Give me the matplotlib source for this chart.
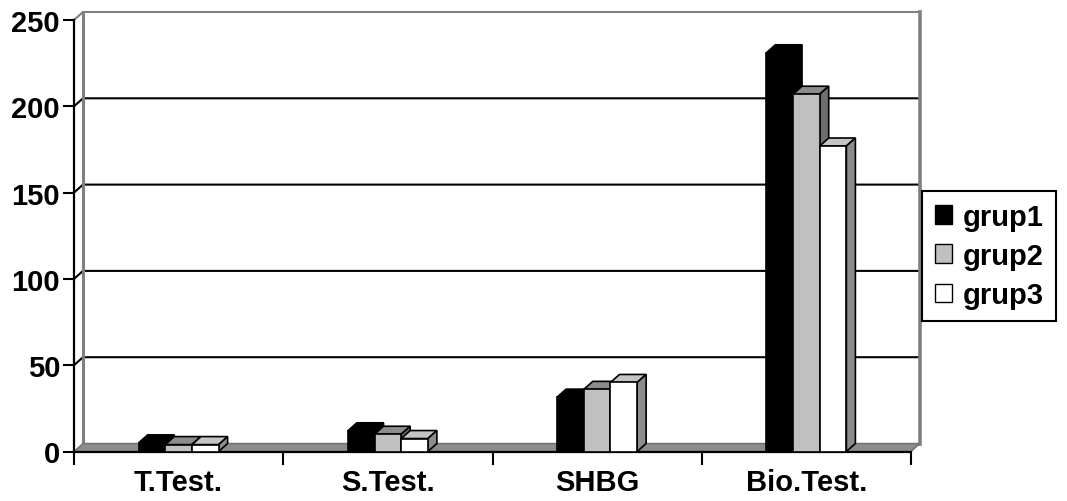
import matplotlib
matplotlib.use('Agg')
import matplotlib.pyplot as plt
from matplotlib.patches import Polygon, Patch
import numpy as np

categories = ['T.Test.', 'S.Test.', 'SHBG', 'Bio.Test.']
grup1 = [5, 12, 31.5, 231]
grup2 = [4, 10, 36, 207]
grup3 = [4, 7.5, 40, 177]
series_names = ['grup1', 'grup2', 'grup3']
y_ticks = [0, 50, 100, 150, 200, 250]

face_colors = ['#000000', '#C0C0C0', '#FFFFFF']
top_colors = ['#000000', '#8C8C8C', '#C4C4C4']
side_colors = ['#000000', '#6E6E6E', '#8C8C8C']

plt.rcParams['font.family'] = ['Liberation Sans', 'DejaVu Sans']
plt.rcParams['font.weight'] = 'bold'
FS = 21

W, H = 1067, 502
fig = plt.figure(figsize=(W / 100, H / 100), dpi=100)
ax = fig.add_axes([74 / W, 1 - 452.5 / H, 837 / W, 431.5 / H])
n = len(categories)
ymax = y_ticks[-1]
ax.set_xlim(0, n)
ax.set_ylim(0, ymax)

# 3-D depth offset (pixels) converted into data units
pos = ax.get_position()
wpx, hpx = pos.width * W, pos.height * H
dx = 9 * n / wpx
dy = 8 * ymax / hpx

# back-wall gridlines, running diagonally across the side wall first
for y in y_ticks[1:]:
    col = '#808080' if y == ymax else 'black'
    ax.plot([0, dx, n + dx], [y, y + dy, y + dy], color=col, lw=1.5,
            zorder=1, clip_on=False, solid_capstyle='butt')
# wall edges
ax.plot([dx, dx], [dy, ymax + dy], color='#808080', lw=2.2, zorder=1, clip_on=False)
ax.plot([n + dx, n + dx], [dy, ymax + dy], color='#808080', lw=2.6, zorder=1, clip_on=False)

# floor
ax.add_patch(Polygon([(0, 0), (dx, dy), (n + dx, dy), (n, 0)], closed=True,
                     facecolor='#8C8C8C', edgecolor='#707070', lw=1.0,
                     zorder=2, clip_on=False))

# 3-D columns
series = [grup1, grup2, grup3]
centers = np.arange(n) + 0.5
bw = 0.1275
for s, vals in enumerate(series):
    xs = centers + (s - 1) * bw
    base = 10 + 3 * s
    ax.bar(xs, vals, width=bw, color=face_colors[s], edgecolor='black',
           lw=1.2, zorder=base + 2, clip_on=False)
    for x, v in zip(xs, vals):
        x0, x1 = x - bw / 2, x + bw / 2
        top = [(x0, v), (x0 + dx, v + dy), (x1 + dx, v + dy), (x1, v)]
        side = [(x1, 0), (x1 + dx, dy), (x1 + dx, v + dy), (x1, v)]
        ax.add_patch(Polygon(top, closed=True, facecolor=top_colors[s],
                             edgecolor='black', lw=1.2, zorder=base + 1, clip_on=False))
        ax.add_patch(Polygon(side, closed=True, facecolor=side_colors[s],
                             edgecolor='black', lw=1.2, zorder=base + 1, clip_on=False))

# axes
for side_name in ('top', 'right'):
    ax.spines[side_name].set_visible(False)
for side_name in ('left', 'bottom'):
    ax.spines[side_name].set_color('black')
    ax.spines[side_name].set_linewidth(1.6)
    ax.spines[side_name].set_zorder(3)
ax.set_yticks(y_ticks)
ax.set_yticklabels([str(t) for t in y_ticks])
ax.tick_params(axis='y', length=8, width=1.5, direction='out', pad=2,
               labelsize=FS, colors='black')
ax.set_xticks(range(n + 1))
ax.set_xticklabels([''] * (n + 1))
ax.tick_params(axis='x', which='major', length=9, width=1.5, direction='out')
ax.set_xticks(centers, minor=True)
ax.set_xticklabels(categories, minor=True)
ax.tick_params(axis='x', which='minor', length=0, pad=12, labelsize=FS)
ax.set_facecolor('white')

handles = [Patch(facecolor=c, edgecolor='black', lw=1.0) for c in face_colors]
leg = fig.legend(handles, series_names, loc='center',
                 bbox_to_anchor=(989 / W, 1 - 257 / H),
                 prop={'size': FS, 'weight': 'bold'},
                 frameon=True, fancybox=False, framealpha=1,
                 edgecolor='black', handlelength=0.6, handleheight=0.6,
                 handletextpad=0.35, labelspacing=0.38, borderpad=0.42,
                 borderaxespad=0)
leg.get_frame().set_linewidth(1.5)

fig.savefig('out.png', dpi=100)
